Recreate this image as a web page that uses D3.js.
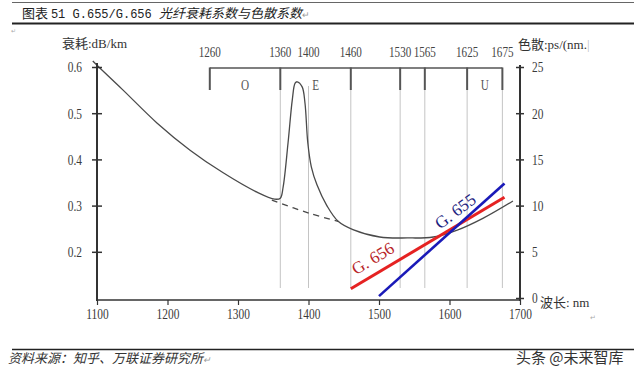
<!DOCTYPE html>
<html><head><meta charset="utf-8">
<script src="https://cdn.jsdelivr.net/npm/d3@7/dist/d3.min.js"></script>
<style>
html,body{margin:0;padding:0;background:#fff;}
svg{display:block;}
</style></head>
<body>
<svg id="chart" width="640" height="380"></svg>
<script>
// ---------- data ----------
const attenNm  = [1094,1104,1137,1185,1232,1279,1327,1352,1360,1364,1371,1377,1381,1384,1391,1395,1399,1404,1412,1426,1442,1463,1501,1540,1577,1611,1648,1690];
const attenVal = [0.613,0.598,0.550,0.479,0.420,0.371,0.329,0.314,0.316,0.340,0.436,0.529,0.565,0.568,0.557,0.522,0.436,0.384,0.345,0.300,0.266,0.248,0.232,0.230,0.232,0.247,0.273,0.310];
const dashNm  = [1348,1402,1442];
const dashVal = [0.312,0.283,0.266];
const g656Nm = [1460,1678];
const g656Disp = [1.0,10.9];
const g655Nm = [1500,1678];
const g655Disp = [0.2,12.4];
const xTicks = [1100,1200,1300,1400,1500,1600,1700];
const yLeftTicks = [0.2,0.3,0.4,0.5,0.6];
const yRightTicks = [0,5,10,15,20,25];
const bandEdges = [1260,1360,1460,1530,1565,1625,1675];
const bandTickLabels = [1260,1360,1400,1460,1530,1565,1625,1675];
const gridNm = [1360,1400,1460,1530,1565,1625,1675];
const bandNames = ["O","E","U"];
const bandNameNm = [1310,1410,1650];
const seriesLabels = ["G. 656","G. 655"];
const seriesLabelNm = [1491,1608];
const seriesLabelDisp = [4.3,9.4];
const seriesLabelAngle = [-31,-37];

// ---------- setup ----------
const svg = d3.select("#chart");
const SERIF = "'Liberation Serif','Noto Sans CJK SC',serif";
const CJK = "'Noto Sans CJK SC','Liberation Serif',sans-serif";
const x = d3.scaleLinear().domain([1100,1700]).range([97,520]);
const yL = d3.scaleLinear().domain([0.1,0.6]).range([298,67]);
const yR = d3.scaleLinear().domain([0,25]).range([298,67]);
const axisColor = "#333";

function condense(sel, sx){
  sel.each(function(){
    const t = d3.select(this);
    const tx = +t.attr("x")||0, ty = +t.attr("y")||0;
    t.attr("x",0).attr("y",0).attr("transform",`translate(${tx},${ty}) scale(${sx},1)`);
  });
}

// ---------- title block ----------
svg.append("line").attr("x1",12).attr("x2",634).attr("y1",2.5).attr("y2",2.5).attr("stroke","#666").attr("stroke-width",1);
svg.append("line").attr("x1",12).attr("x2",634).attr("y1",23.5).attr("y2",23.5).attr("stroke","#222").attr("stroke-width",2);
const title = svg.append("text").attr("x",22).attr("y",18).attr("font-size",13).attr("fill","#222").attr("font-family",CJK);
title.append("tspan").text("图表 ");
title.append("tspan").attr("font-family","'Liberation Mono',monospace").attr("font-size",12).text("51 G.655/G.656 ");
title.append("tspan").attr("font-style","italic").text("光纤衰耗系数与色散系数");
title.append("tspan").attr("fill","#999").attr("font-size",9).text("↵");
svg.append("text").attr("x",11).attr("y",33).attr("font-size",6).attr("fill","#aaa").attr("font-family",SERIF).text("↵");

// ---------- bands ----------
const bandG = svg.append("g");
bandG.selectAll("line.grid").data(gridNm).join("line")
  .attr("x1",d=>x(d)).attr("x2",d=>x(d))
  .attr("y1",d=>d===1400?86:90).attr("y2",288)
  .attr("stroke","#c4c4c4").attr("stroke-width",1);
bandG.append("line").attr("x1",x(bandEdges[0])).attr("x2",x(bandEdges[bandEdges.length-1]))
  .attr("y1",68).attr("y2",68).attr("stroke","#555").attr("stroke-width",1.5);
bandG.selectAll("line.edge").data(bandEdges).join("line")
  .attr("x1",d=>x(d)).attr("x2",d=>x(d)).attr("y1",67.5).attr("y2",90)
  .attr("stroke","#555").attr("stroke-width",2);
bandG.selectAll("text.bt").data(bandTickLabels).join("text")
  .attr("x",d=>x(d)).attr("y",57).attr("text-anchor","middle")
  .attr("font-family",SERIF).attr("font-size",15).attr("fill","#444").text(d=>d)
  .call(condense,0.74);
bandG.selectAll("text.bn").data(bandNames).join("text")
  .attr("x",(d,i)=>x(bandNameNm[i])).attr("y",90).attr("text-anchor","middle")
  .attr("font-family",SERIF).attr("font-size",14).attr("fill","#555").text(d=>d)
  .call(condense,0.8);

// ---------- attenuation curve ----------
const lineL = d3.line().x(d=>x(d[0])).y(d=>yL(d[1])).curve(d3.curveCatmullRom.alpha(0.5));
svg.append("path").datum(attenNm.map((n,i)=>[n,attenVal[i]])).attr("d",lineL)
  .attr("fill","none").attr("stroke","#4a4a4a").attr("stroke-width",1.3);
svg.append("path").datum(dashNm.map((n,i)=>[n,dashVal[i]])).attr("d",lineL)
  .attr("fill","none").attr("stroke","#4a4a4a").attr("stroke-width",1.3).attr("stroke-dasharray","6,5");

// ---------- dispersion lines ----------
const lineR = d3.line().x(d=>x(d[0])).y(d=>yR(d[1]));
svg.append("path").datum(g656Nm.map((n,i)=>[n,g656Disp[i]])).attr("d",lineR)
  .attr("fill","none").attr("stroke","#e52222").attr("stroke-width",3);
svg.append("path").datum(g655Nm.map((n,i)=>[n,g655Disp[i]])).attr("d",lineR)
  .attr("fill","none").attr("stroke","#1a1ab8").attr("stroke-width",2.6);
const labColors = ["#b8262a","#1c1c80"];
svg.selectAll("text.sl").data(seriesLabels).join("text")
  .attr("text-anchor","middle").attr("dy","0.35em")
  .attr("transform",(d,i)=>`translate(${x(seriesLabelNm[i])},${yR(seriesLabelDisp[i])}) rotate(${seriesLabelAngle[i]})`)
  .attr("font-family",SERIF).attr("font-size",17).attr("fill",(d,i)=>labColors[i]).text(d=>d);

// ---------- axes ----------
// left
const gl = svg.append("g").attr("transform",`translate(${x(1100)},0)`)
  .call(d3.axisLeft(yL).tickValues(yLeftTicks).tickFormat(d3.format(".1f")).tickSizeInner(5).tickPadding(10));
gl.select(".domain").remove();
gl.selectAll(".tick line").attr("x1",-5).attr("x2",5).attr("stroke",axisColor).attr("stroke-width",1.5);
gl.selectAll(".tick text").attr("font-family",SERIF).attr("font-size",15).attr("fill","#3a3a3a").call(condense,0.76);
svg.append("line").attr("x1",x(1100)).attr("x2",x(1100)).attr("y1",63).attr("y2",301).attr("stroke",axisColor).attr("stroke-width",2);
// bottom
const gb = svg.append("g").attr("transform",`translate(0,300)`)
  .call(d3.axisBottom(x).tickValues(xTicks).tickFormat(d3.format("d")).tickSizeInner(5).tickPadding(3));
gb.select(".domain").remove();
gb.selectAll(".tick line").attr("stroke",axisColor).attr("stroke-width",1.2);
gb.selectAll(".tick text").attr("font-family",SERIF).attr("font-size",15).attr("fill","#3a3a3a").call(condense,0.76);
svg.append("line").attr("x1",x(1100)).attr("x2",x(1700)).attr("y1",300).attr("y2",300).attr("stroke",axisColor).attr("stroke-width",1.6);
// right
const gr = svg.append("g").attr("transform",`translate(${x(1700)},0)`)
  .call(d3.axisRight(yR).tickValues(yRightTicks).tickSizeInner(4).tickPadding(8));
gr.select(".domain").remove();
gr.selectAll(".tick line").attr("x1",-4).attr("x2",4).attr("stroke",axisColor).attr("stroke-width",1.5);
gr.selectAll(".tick text").attr("font-family",SERIF).attr("font-size",15).attr("fill","#3a3a3a").call(condense,0.76);
svg.append("line").attr("x1",x(1700)).attr("x2",x(1700)).attr("y1",65).attr("y2",301).attr("stroke",axisColor).attr("stroke-width",2);

// axis titles
svg.append("text").attr("x",62).attr("y",48).attr("font-family",SERIF).attr("font-size",13).attr("fill","#333").text("衰耗:dB/km");
const rt = svg.append("text").attr("x",518).attr("y",49).attr("font-family",SERIF).attr("font-size",13).attr("fill","#333");
rt.append("tspan").text("色散:ps/(nm.");
rt.append("tspan").attr("fill","#bbb").text("|");
svg.append("text").attr("x",540).attr("y",307).attr("font-family",SERIF).attr("font-size",13).attr("fill","#333").text("波长: nm");
svg.append("text").attr("x",590).attr("y",320).attr("font-size",7).attr("fill","#aaa").attr("font-family",SERIF).text("↵");

// ---------- footer ----------
svg.append("line").attr("x1",12).attr("x2",634).attr("y1",349.5).attr("y2",349.5).attr("stroke","#222").attr("stroke-width",1.5);
const src = svg.append("text").attr("x",8).attr("y",363).attr("font-family",CJK).attr("font-size",13).attr("font-style","italic").attr("fill","#333");
src.append("tspan").text("资料来源：知乎、万联证券研究所");
src.append("tspan").attr("fill","#999").attr("font-size",9).text("↵");
svg.append("text").attr("x",516).attr("y",363).attr("font-family","'Noto Sans CJK SC',sans-serif").attr("font-size",15).attr("fill","#333").text("头条 @未来智库");
</script>
</body></html>
